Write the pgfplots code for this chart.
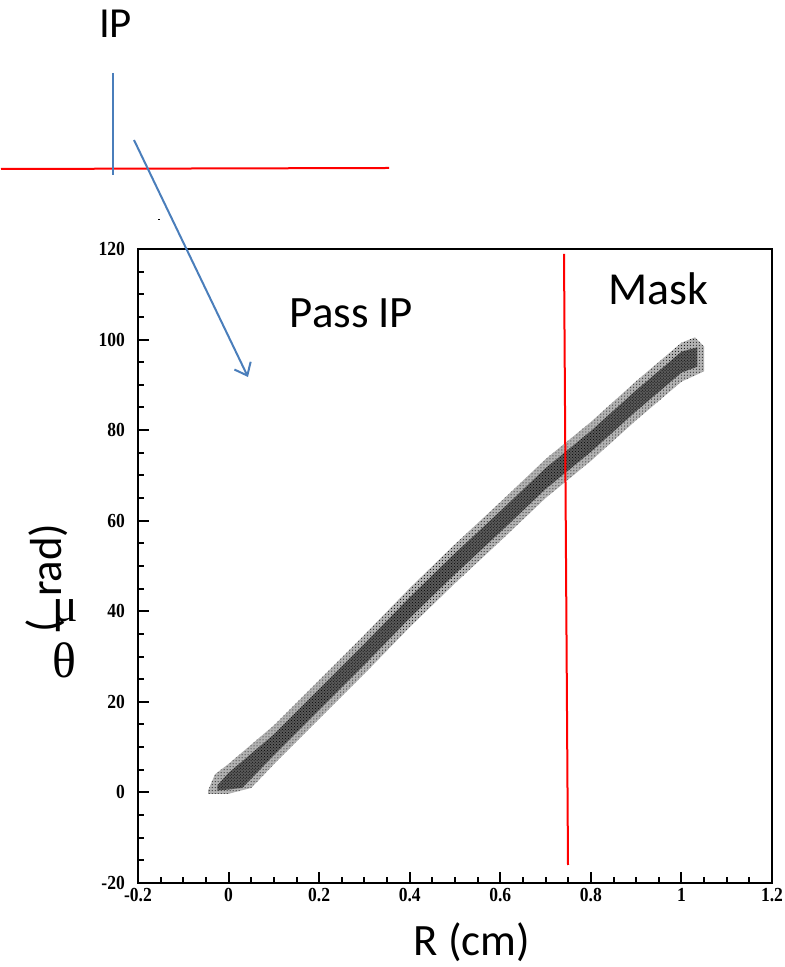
\documentclass[border=0pt]{standalone}
\usepackage{pgfplots}
\pgfplotsset{compat=1.18}
\usepackage{fontspec}
\usetikzlibrary{arrows.meta,patterns}
\newfontfamily\calib{Carlito}
\newfontfamily\tickfont{Liberation Serif}[FakeStretch=0.88]
\newfontfamily\greekfont{Liberation Serif}
\definecolor{pptblue}{RGB}{74,126,187}
\definecolor{pptred}{RGB}{255,0,0}

\begin{document}
\begin{tikzpicture}[x=1bp,y=1bp]
\path (0,0) rectangle (784,967);
\begin{axis}[
  at={(137bp,84bp)}, anchor=south west,
  width=634bp, height=634bp, scale only axis,
  xmin=-0.2, xmax=1.2, ymin=-20, ymax=120,
  xtick={-0.2,0,0.2,0.4,0.6,0.8,1,1.2},
  ytick={-20,0,20,40,60,80,100,120},
  minor x tick num=3, minor y tick num=3,
  tick align=inside, xtick pos=left, ytick pos=left,
  major tick length=11bp, minor tick length=5.5bp,
  tick style={black, line width=2bp},
  axis line style={line width=1.2bp},
  /pgf/number format/assume math mode=true,
  ticklabel style={font=\tickfont\bfseries\fontsize{20}{20}\selectfont, inner sep=1bp},
  yticklabel style={xshift=-12bp},
  xticklabel style={yshift=-4bp},
]
% outer, sparse part of the event band
\addplot[draw=none, fill=black!30, postaction={pattern=dots, pattern color=black}] coordinates {
  (-0.045,0.5) (-0.03,4) (0.0,6.3) (0.1,14.8) (0.2,24.8) (0.3,34.8) (0.4,45.1)
  (0.5,54.8) (0.6,64.1) (0.7,73.6) (0.8,81.8) (0.9,90.8) (1.0,99.3) (1.03,100.5) (1.05,98.5)
  (1.05,93) (1.0,90.7) (0.9,82.2) (0.8,73.2) (0.7,65) (0.6,55.5) (0.5,46.2) (0.4,36.5)
  (0.3,26.2) (0.2,16.2) (0.1,6.2) (0.05,1.0) (0.0,-0.3) (-0.045,-0.3)
} -- cycle;
% dense core of the band
\addplot[draw=none, fill=black!65, postaction={pattern=crosshatch dots, pattern color=black}] coordinates {
  (-0.025,1.5) (0.0,4.3) (0.1,12.8) (0.2,22.8) (0.3,32.8) (0.4,43.1) (0.5,52.8)
  (0.6,62.1) (0.7,71.6) (0.8,79.8) (0.9,88.8) (1.0,97.3) (1.035,98.3)
  (1.035,94) (1.0,92.7) (0.9,84.2) (0.8,75.2) (0.7,67) (0.6,57.5) (0.5,48.2)
  (0.4,38.5) (0.3,28.2) (0.2,18.2) (0.1,8.2) (0.03,1.0) (-0.025,0.4)
} -- cycle;
% heavier left and bottom axis lines
\draw[line width=2.4bp] (rel axis cs:0,1) -- (rel axis cs:0,0) -- (rel axis cs:1,0);
\end{axis}

% beam-line sketch above the frame
\draw[pptred, line width=2bp] (0,798) -- (388,799);
\draw[pptblue, line width=1.6bp] (112,894) -- (112,792);
\draw[pptblue, line width=2bp, -{Straight Barb[length=11bp,width=18bp,line width=2bp]}] (133,827) -- (247,590);
\draw[pptred, line width=2bp] (563,713) -- (567,102);
\draw[black, line width=1bp] (157,747) -- (159,747);

% labels
\node[anchor=base, inner sep=0, font=\calib\fontsize{43}{43}\selectfont] at (114.5,929) {IP};
\node[anchor=base, inner sep=0, font=\calib\fontsize{45}{45}\selectfont] at (350.5,639) {Pass IP};
\node[anchor=base, inner sep=0, font=\calib\fontsize{46}{46}\selectfont] at (657,662) {Mask};
\node[anchor=base, inner sep=0, font=\calib\fontsize{45}{45}\selectfont] at (471,11) {R (cm)};

% axis title: rotated pieces with upright Greek letters
\node[anchor=base west, rotate=90, inner sep=0, font=\calib\fontsize{45}{45}\selectfont] at (60,370) {rad)};
\node[anchor=base west, rotate=90, inner sep=0, font=\calib\fontsize{45}{45}\selectfont] at (57,334) {(};
\node[anchor=base, inner sep=0, font=\greekfont\fontsize{48}{48}\selectfont] at (64,345) {μ};
\node[anchor=base, inner sep=0, font=\greekfont\fontsize{50}{50}\selectfont] at (63,289) {θ};
\end{tikzpicture}
\end{document}
